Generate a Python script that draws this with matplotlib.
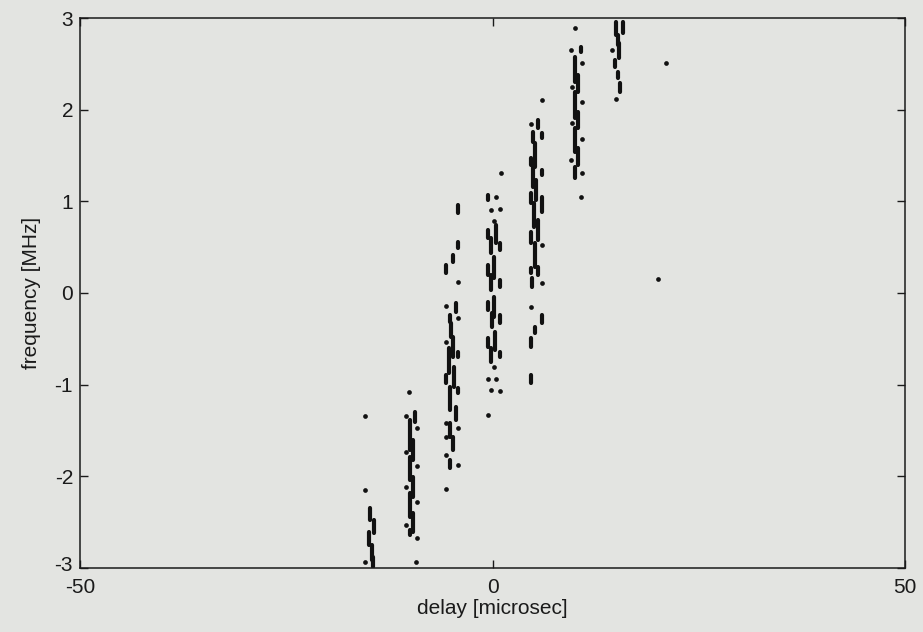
import numpy as np
import matplotlib
matplotlib.use("Agg")
import matplotlib.pyplot as plt
import matplotlib.transforms as mtransforms

plt.rcParams['font.family'] = ['Liberation Sans', 'DejaVu Sans']
plt.rcParams['axes.unicode_minus'] = False

# contour dashes: (delay, freq top, freq bottom)
dashes_m15 = [(-14.82, -2.35, -2.48), (-14.42, -2.48, -2.62), (-15.03, -2.61, -2.75),
              (-14.63, -2.75, -2.91), (-14.51, -2.88, -2.99)]
dots_m15 = [(-15.43, -1.34), (-15.43, -2.15), (-15.43, -2.93)]

dashes_m10 = [(-9.45, -1.30, -1.41), (-10.06, -1.39, -1.71), (-9.66, -1.60, -1.82),
              (-9.98, -1.79, -2.04), (-9.66, -2.01, -2.23), (-9.98, -2.18, -2.44),
              (-9.58, -2.40, -2.61), (-10.06, -2.59, -2.64)]
dots_m10 = [(-10.15, -1.08), (-10.46, -1.34), (-9.18, -1.47), (-10.46, -1.73),
            (-9.18, -1.89), (-10.46, -2.12), (-9.18, -2.28), (-10.46, -2.53),
            (-9.18, -2.67), (-9.33, -2.93)]

dashes_m5 = [(-4.21, 0.96, 0.87), (-4.21, 0.56, 0.49), (-4.81, 0.41, 0.34),
             (-5.61, 0.31, 0.22), (-4.40, -0.11, -0.21), (-5.13, -0.24, -0.32),
             (-5.01, -0.33, -0.48), (-4.81, -0.48, -0.70), (-4.21, -0.64, -0.70),
             (-5.30, -0.60, -0.87), (-4.61, -0.81, -1.03), (-5.61, -0.89, -0.98),
             (-4.21, -1.04, -1.09), (-5.21, -1.03, -1.28), (-4.48, -1.24, -1.39),
             (-5.13, -1.42, -1.57), (-4.81, -1.57, -1.71), (-5.21, -1.82, -1.91)]
dots_m5 = [(-4.21, 0.12), (-5.61, -0.14), (-4.21, -0.27), (-5.61, -0.53),
           (-5.61, -1.42), (-4.21, -1.47), (-5.61, -1.57), (-5.61, -1.77),
           (-4.21, -1.88), (-5.61, -2.14)]

dashes_0 = [(-0.57, 1.07, 1.01), (-0.57, 0.69, 0.60), (0.45, 0.74, 0.55),
            (-0.16, 0.60, 0.44), (0.93, 0.55, 0.47), (-0.57, 0.31, 0.20),
            (0.24, 0.39, 0.16), (-0.16, 0.20, 0.03), (0.93, 0.14, 0.07),
            (-0.57, -0.10, -0.19), (0.24, -0.04, -0.26), (-0.04, -0.22, -0.37),
            (0.93, -0.24, -0.33), (-0.57, -0.49, -0.59), (0.36, -0.43, -0.62),
            (-0.16, -0.60, -0.75), (0.93, -0.64, -0.70)]
dots_0 = [(1.05, 1.31), (0.45, 1.05), (-0.16, 0.91), (0.93, 0.92), (0.16, 0.79),
          (0.16, -0.81), (-0.57, -0.94), (0.45, -0.94), (-0.16, -1.06),
          (0.93, -1.07), (-0.57, -1.33)]

dashes_p5 = [(5.54, 1.89, 1.80), (4.93, 1.76, 1.65), (6.02, 1.75, 1.69),
             (5.21, 1.64, 1.37), (4.61, 1.47, 1.40), (6.02, 1.34, 1.29),
             (4.93, 1.37, 1.16), (5.33, 1.23, 1.01), (4.61, 1.09, 0.98),
             (6.02, 1.05, 0.88), (5.05, 0.98, 0.72), (5.54, 0.80, 0.58),
             (4.61, 0.67, 0.55), (5.13, 0.55, 0.28), (4.61, 0.27, 0.22),
             (5.54, 0.28, 0.20), (4.81, 0.16, 0.07), (6.02, -0.24, -0.33),
             (5.13, -0.37, -0.44), (4.61, -0.49, -0.59), (4.61, -0.89, -0.98)]
dots_p5 = [(6.02, 2.11), (4.64, 1.84), (6.02, 0.52), (6.02, 0.11), (4.61, -0.15)]

dashes_p10 = [(10.67, 2.68, 2.63), (9.94, 2.57, 2.30), (10.42, 2.38, 2.19),
              (10.02, 2.19, 1.91), (10.42, 1.97, 1.80), (10.02, 1.80, 1.54),
              (10.42, 1.58, 1.40), (9.94, 1.37, 1.25)]
dots_p10 = [(9.94, 2.89), (9.54, 2.65), (10.82, 2.51), (9.61, 2.25), (10.82, 2.08),
            (9.61, 1.85), (10.82, 1.68), (9.54, 1.45), (10.82, 1.31), (10.67, 1.05)]

dashes_p15 = [(14.99, 2.96, 2.81), (15.79, 2.96, 2.84), (15.19, 2.81, 2.71),
              (15.39, 2.73, 2.56), (14.79, 2.54, 2.47), (15.27, 2.41, 2.35),
              (15.48, 2.29, 2.19)]
dots_p15 = [(14.46, 2.65), (14.91, 2.12), (21.0, 2.51), (20.0, 0.15)]

all_dashes = dashes_m15 + dashes_m10 + dashes_m5 + dashes_0 + dashes_p5 + dashes_p10 + dashes_p15
all_dots = dots_m15 + dots_m10 + dots_m5 + dots_0 + dots_p5 + dots_p10 + dots_p15

bg = '#e3e4e1'
ink = '#1a1a1a'
fig = plt.figure(figsize=(9.23, 6.32), dpi=100, facecolor=bg)
ax = fig.add_axes([0.0867, 0.1013, 0.8938, 0.8702], facecolor=bg)

d = np.array(all_dashes)
ax.vlines(d[:, 0], d[:, 2], d[:, 1], colors='#111111', linewidth=3.0, capstyle='round')
p = np.array(all_dots)
ax.plot(p[:, 0], p[:, 1], 'o', color='#111111', ms=3.4, mew=0)

ax.set_xlim(-50, 50)
ax.set_ylim(-3, 3)
ax.set_xticks([-50, 0, 50])
ax.set_yticks([-3, -2, -1, 0, 1, 2, 3])
ax.tick_params(direction='in', length=6, width=1, top=True, right=True,
               labelsize=15, colors=ink, pad=5)
ax.tick_params(axis='x', pad=7)
for s in ax.spines.values():
    s.set_linewidth(1.1)
    s.set_color(ink)

# lift the bottom y label a little so it sits clear of "-50"
lbl = ax.get_yticklabels()[0]
lbl.set_transform(lbl.get_transform() + mtransforms.ScaledTranslation(0, 4 / 100, fig.dpi_scale_trans))

ax.set_xlabel('delay [microsec]', fontsize=15, color=ink, labelpad=2)
ax.set_ylabel('frequency [MHz]', fontsize=15, color=ink, labelpad=10)

fig.savefig('out.png', dpi=100, facecolor=bg)
